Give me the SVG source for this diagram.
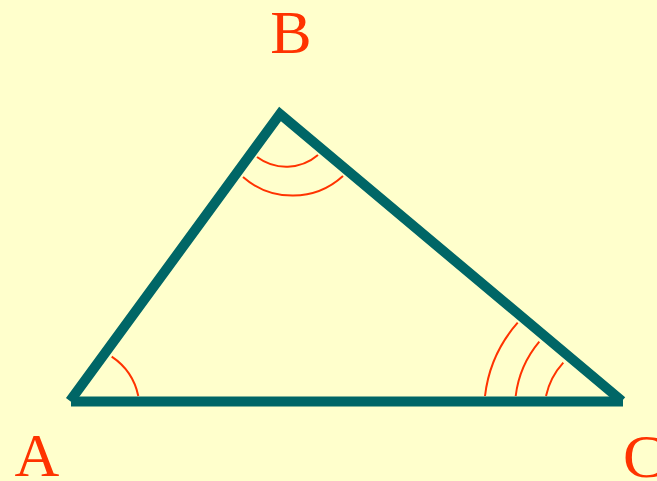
<svg xmlns="http://www.w3.org/2000/svg" width="657" height="481" viewBox="0 0 657 481">
<style>
.side{fill:none;stroke:#006666;stroke-width:10;stroke-linecap:butt;stroke-linejoin:miter;stroke-miterlimit:10}
.arc{fill:none;stroke:#FF3300;stroke-width:2}
.lbl{font-family:"Liberation Serif","Times New Roman",serif;font-size:62px;fill:#FF3300}
</style>
<rect width="657" height="481" fill="#FFFFCC"/>
<g id="angles">
<path class="arc" d="M111.7,356.7 A63,63 0 0 1 138.3,396"/>
<path class="arc" d="M257,157 A49,49 0 0 0 318,155"/>
<path class="arc" d="M243,177 A75,75 0 0 0 343,176"/>
<path class="arc" d="M517.7,322.7 A134,134 0 0 0 485,396"/>
<path class="arc" d="M539.3,341.7 A104,104 0 0 0 515.7,396"/>
<path class="arc" d="M563.3,362.7 A73,73 0 0 0 546,396"/>
</g>
<g id="connectors">
<polyline class="side" points="70,401 280,114 622,401"/>
<line class="side" x1="71" y1="401.5" x2="623" y2="401.5"/>
</g>
<g id="A"><text class="lbl" x="37" y="476" text-anchor="middle">A</text></g>
<g id="B"><text class="lbl" x="291" y="53" text-anchor="middle">B</text></g>
<g id="C"><text class="lbl" x="623" y="477">C</text></g>
</svg>
